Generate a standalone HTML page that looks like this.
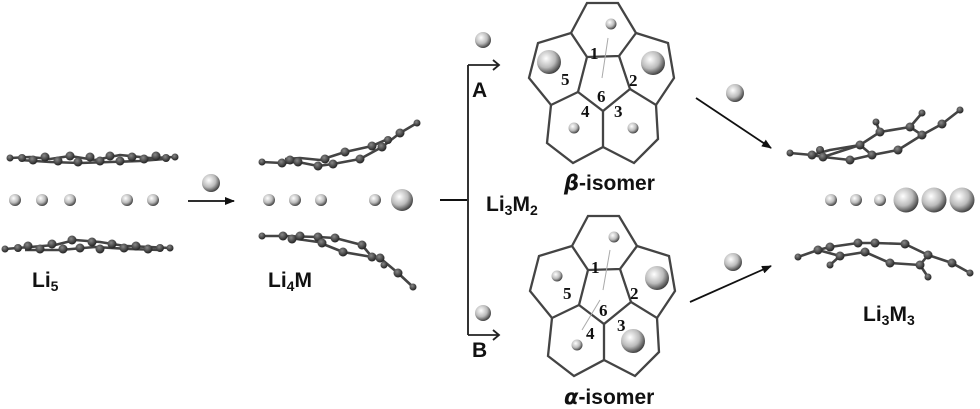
<!DOCTYPE html>
<html><head><meta charset="utf-8"><style>
html,body{margin:0;padding:0;background:#fff;}
svg{display:block;font-family:"Liberation Sans",sans-serif;}
.b{fill:none;stroke:#444;stroke-width:2.6;stroke-linejoin:round}
.ring{fill:none;stroke:#444;stroke-width:2.3}
.n{font-family:"Liberation Serif",serif;font-weight:bold;font-size:17px;fill:#111}
.l{font-weight:bold;font-size:21px;fill:#111}
</style></head><body>
<svg width="980" height="409" viewBox="0 0 980 409" xmlns="http://www.w3.org/2000/svg">
<defs>
<radialGradient id="g" cx="0.38" cy="0.35" r="0.7"><stop offset="0" stop-color="#fff"/><stop offset="0.55" stop-color="#bbb"/><stop offset="1" stop-color="#333"/></radialGradient>
<radialGradient id="c" cx="0.4" cy="0.35" r="0.7"><stop offset="0" stop-color="#888"/><stop offset="1" stop-color="#1a1a1a"/></radialGradient>
<marker id="ah" markerWidth="10" markerHeight="8" refX="9" refY="4" orient="auto" markerUnits="userSpaceOnUse"><path d="M0,0 L10,4 L0,8 Z" fill="#111"/></marker>
</defs>

<!-- Li5 -->
<g>
<polyline class="b" points="10,158 30,157 50,159 70,156 95,160 120,155 150,158 175,157"/>
<polyline class="b" points="20,160 50,162 80,163 110,162 140,161 165,159"/>
<g fill="url(#c)">
<circle cx="10" cy="158" r="3.5"/><circle cx="22" cy="158" r="4"/><circle cx="33" cy="160" r="4.5"/><circle cx="45" cy="157" r="4.5"/><circle cx="58" cy="161" r="4.5"/><circle cx="70" cy="156" r="4.5"/><circle cx="78" cy="162" r="4.5"/><circle cx="90" cy="157" r="4.5"/><circle cx="100" cy="161" r="4.5"/><circle cx="110" cy="156" r="4.5"/><circle cx="120" cy="161" r="4.5"/><circle cx="132" cy="157" r="4.5"/><circle cx="144" cy="159" r="4.5"/><circle cx="156" cy="156" r="4.5"/><circle cx="166" cy="158" r="4"/><circle cx="175" cy="157" r="3.5"/>
</g>
<polyline class="b" points="5,249 30,247 55,245 75,240 100,242 125,246 150,247 170,248"/>
<polyline class="b" points="25,250 60,250 95,247 130,249 160,250"/>
<g fill="url(#c)">
<circle cx="5" cy="249" r="3.5"/><circle cx="18" cy="248" r="4"/><circle cx="28" cy="246" r="4.5"/><circle cx="40" cy="249" r="4.5"/><circle cx="52" cy="244" r="4.5"/><circle cx="63" cy="249" r="4.5"/><circle cx="72" cy="240" r="4.5"/><circle cx="80" cy="248" r="4.5"/><circle cx="92" cy="242" r="4.5"/><circle cx="100" cy="249" r="4.5"/><circle cx="112" cy="244" r="4.5"/><circle cx="124" cy="248" r="4.5"/><circle cx="136" cy="246" r="4.5"/><circle cx="148" cy="249" r="4.5"/><circle cx="160" cy="248" r="4"/><circle cx="170" cy="248" r="3.5"/>
</g>
<g fill="url(#g)"><circle cx="15" cy="200" r="6"/><circle cx="42" cy="200" r="6"/><circle cx="70" cy="200" r="6"/><circle cx="127" cy="200" r="6"/><circle cx="153" cy="200" r="6"/></g>
<text class="l" x="32" y="287">Li<tspan font-size="14" dy="4">5</tspan></text>
</g>

<line x1="188" y1="201" x2="234" y2="201" stroke="#111" stroke-width="1.8" marker-end="url(#ah)"/>
<circle cx="211" cy="183" r="9" fill="url(#g)"/>

<!-- Li4M -->
<g>
<polyline class="b" points="262,162 282,163 298,162 318,166 333,164 360,159 382,147 400,133 417,123"/>
<polyline class="b" points="285,159 300,158 320,160 345,152 372,146 390,138"/>
<g fill="url(#c)">
<circle cx="262" cy="162" r="3.5"/><circle cx="282" cy="163" r="4.5"/><circle cx="290" cy="160" r="4.5"/><circle cx="298" cy="162" r="4.5"/><circle cx="318" cy="166" r="4.5"/><circle cx="325" cy="159" r="4.5"/><circle cx="333" cy="164" r="4.5"/><circle cx="345" cy="152" r="4.5"/><circle cx="360" cy="159" r="4.5"/><circle cx="372" cy="146" r="4.5"/><circle cx="382" cy="147" r="4.5"/><circle cx="388" cy="140" r="4"/><circle cx="400" cy="133" r="4.5"/><circle cx="417" cy="123" r="3.5"/>
</g>
<polyline class="b" points="262,236 283,236 318,237 335,238 362,245 372,257 380,258 398,273 413,287"/>
<polyline class="b" points="290,238 318,242 343,252 372,257"/>
<g fill="url(#c)">
<circle cx="262" cy="236" r="3.5"/><circle cx="283" cy="236" r="4.5"/><circle cx="292" cy="239" r="4.5"/><circle cx="300" cy="236" r="4.5"/><circle cx="318" cy="237" r="4.5"/><circle cx="322" cy="243" r="4.5"/><circle cx="335" cy="238" r="4.5"/><circle cx="343" cy="252" r="4.5"/><circle cx="362" cy="245" r="4.5"/><circle cx="372" cy="257" r="4.5"/><circle cx="380" cy="258" r="4.5"/><circle cx="384" cy="265" r="3.5"/><circle cx="398" cy="273" r="4.5"/><circle cx="413" cy="287" r="3.5"/>
</g>
<g fill="url(#g)"><circle cx="269" cy="200" r="6"/><circle cx="295" cy="200" r="6"/><circle cx="321" cy="200" r="6"/><circle cx="375" cy="200" r="6"/><circle cx="402" cy="200" r="11"/></g>
<text class="l" x="268" y="287">Li<tspan font-size="14" dy="4">4</tspan><tspan dy="-4">M</tspan></text>
</g>

<!-- bracket -->
<line x1="440" y1="200" x2="468" y2="200" stroke="#111" stroke-width="2"/>
<line x1="468" y1="65" x2="468" y2="335" stroke="#333" stroke-width="2"/>
<polyline points="468,65 499,65" stroke="#222" stroke-width="1.8" fill="none"/>
<polyline points="493,60 499,65 493,70" stroke="#222" stroke-width="1.8" fill="none"/>
<polyline points="468,335 499,335" stroke="#222" stroke-width="1.8" fill="none"/>
<polyline points="493,330 499,335 493,340" stroke="#222" stroke-width="1.8" fill="none"/>
<circle cx="483" cy="40" r="8" fill="url(#g)"/>
<circle cx="483" cy="313" r="8" fill="url(#g)"/>
<text class="l" x="472" y="97" font-size="18">A</text>
<text class="l" x="472" y="357" font-size="18">B</text>
<text class="l" x="486" y="211">Li<tspan font-size="14" dy="4">3</tspan><tspan dy="-4">M</tspan><tspan font-size="14" dy="4">2</tspan></text>

<!-- beta isomer -->
<g id="iso">
<polyline class="ring" points="571,33 587,3 618,3 636,33 619,56 587,57 571,33 538,43 529,78 551,105 578,92 587,57"/>
<polyline class="ring" points="619,56 630,89 603,111 578,92"/>
<polyline class="ring" points="636,33 668,43 674,78 656,105 630,89"/>
<polyline class="ring" points="551,105 547,143 573,163 603,147 603,111"/>
<polyline class="ring" points="603,147 634,163 658,139 656,105"/>
</g>
<line x1="608" y1="38" x2="602" y2="78" stroke="#aaa" stroke-width="1"/>
<g fill="url(#g)"><circle cx="611" cy="24" r="5.5"/><circle cx="549" cy="62" r="12"/><circle cx="653" cy="63" r="12"/><circle cx="574" cy="128" r="5.5"/><circle cx="633" cy="128" r="5.5"/></g>
<text class="n" x="590" y="59">1</text><text class="n" x="629" y="86">2</text><text class="n" x="614" y="117">3</text><text class="n" x="581" y="117">4</text><text class="n" x="561" y="85">5</text><text class="n" x="597" y="102">6</text>
<text class="l" x="564" y="190" font-size="21"><tspan font-style="italic" font-family="'DejaVu Sans',sans-serif">β</tspan>-isomer</text>

<!-- alpha isomer -->
<use href="#iso" transform="translate(1,213)"/>
<line x1="610" y1="250" x2="603" y2="290" stroke="#aaa" stroke-width="1"/>
<line x1="600" y1="300" x2="582" y2="330" stroke="#aaa" stroke-width="1"/>
<g fill="url(#g)"><circle cx="614" cy="237" r="5.5"/><circle cx="557" cy="276" r="5.5"/><circle cx="657" cy="278" r="12"/><circle cx="577" cy="345" r="5.5"/><circle cx="633" cy="341" r="12"/></g>
<text class="n" x="591" y="273">1</text><text class="n" x="630" y="299">2</text><text class="n" x="617" y="331">3</text><text class="n" x="586" y="339">4</text><text class="n" x="563" y="299">5</text><text class="n" x="599" y="316">6</text>
<text class="l" x="564" y="404" font-size="21"><tspan font-style="italic" font-family="'DejaVu Sans',sans-serif">α</tspan>-isomer</text>

<line x1="696" y1="98" x2="771" y2="148" stroke="#111" stroke-width="1.8" marker-end="url(#ah)"/>
<line x1="690" y1="302" x2="771" y2="266" stroke="#111" stroke-width="1.8" marker-end="url(#ah)"/>
<circle cx="735" cy="93" r="9" fill="url(#g)"/>
<circle cx="733" cy="262" r="9" fill="url(#g)"/>

<!-- Li3M3 -->
<g>
<polyline class="b" points="790,153 812,155 823,157 860,145 872,155 898,150 922,135 942,124 960,110"/>
<polyline class="b" points="812,155 830,150 860,145 880,132 910,127 922,135"/>
<polyline class="b" points="823,157 850,160 872,155"/>
<polyline class="b" points="880,132 876,122"/><polyline class="b" points="910,127 922,113"/>
<g fill="url(#c)">
<circle cx="790" cy="153" r="3.5"/><circle cx="812" cy="155" r="4.5"/><circle cx="820" cy="150" r="4"/><circle cx="823" cy="157" r="4.5"/><circle cx="850" cy="160" r="4.5"/><circle cx="860" cy="145" r="4.5"/><circle cx="872" cy="155" r="4.5"/><circle cx="880" cy="132" r="4.5"/><circle cx="876" cy="122" r="3.5"/><circle cx="898" cy="150" r="4.5"/><circle cx="910" cy="127" r="4.5"/><circle cx="922" cy="113" r="3.5"/><circle cx="922" cy="135" r="4.5"/><circle cx="942" cy="124" r="4.5"/><circle cx="960" cy="110" r="3.5"/>
</g>
<polyline class="b" points="798,257 818,250 830,247 858,243 875,243 905,244 928,255 952,263 970,273"/>
<polyline class="b" points="818,250 840,256 865,252 890,263 920,265 928,255"/>
<polyline class="b" points="840,256 830,265"/><polyline class="b" points="920,265 928,277"/>
<g fill="url(#c)">
<circle cx="798" cy="257" r="3.5"/><circle cx="818" cy="250" r="4.5"/><circle cx="830" cy="247" r="4.5"/><circle cx="840" cy="256" r="4.5"/><circle cx="830" cy="265" r="3.5"/><circle cx="858" cy="243" r="4.5"/><circle cx="865" cy="252" r="4.5"/><circle cx="875" cy="243" r="4.5"/><circle cx="890" cy="263" r="4.5"/><circle cx="905" cy="244" r="4.5"/><circle cx="920" cy="265" r="4.5"/><circle cx="928" cy="277" r="3.5"/><circle cx="928" cy="255" r="4.5"/><circle cx="952" cy="263" r="4.5"/><circle cx="970" cy="273" r="3.5"/>
</g>
<g fill="url(#g)"><circle cx="831" cy="200" r="6"/><circle cx="856" cy="200" r="6"/><circle cx="880" cy="200" r="6"/><circle cx="906" cy="200" r="12.5"/><circle cx="934" cy="200" r="12.5"/><circle cx="962" cy="200" r="12.5"/></g>
<text class="l" x="863" y="321">Li<tspan font-size="14" dy="4">3</tspan><tspan dy="-4">M</tspan><tspan font-size="14" dy="4">3</tspan></text>
</g>
</svg>
</body></html>
